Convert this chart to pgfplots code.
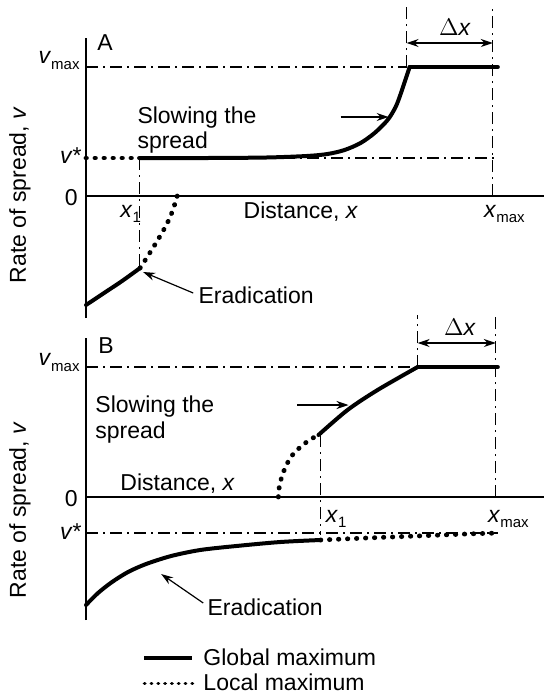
\documentclass[border=0pt]{standalone}
\usepackage{pgfplots}
\pgfplotsset{compat=1.18}
\usepackage{fontspec}
\setmainfont{Liberation Sans}
\usetikzlibrary{arrows.meta}

\tikzset{
  glob/.style={line width=2pt, line cap=round, line join=round},
  loc/.style={line width=2.4pt, line cap=round, dash pattern=on 0.2pt off 4.3pt},
  refl/.style={line width=0.6pt, dash pattern=on 6pt off 2.5pt on 1pt off 2.5pt},
  fnt/.style={font=\fontsize{11.5}{13}\selectfont, inner sep=0pt},
  arr/.style={line width=0.8pt, -{Stealth[length=6pt,width=4pt]}},
  darr/.style={line width=0.8pt, {Stealth[length=6pt,width=4pt]}-{Stealth[length=6pt,width=4pt]}},
  earr/.style={line width=0.6pt, -{Stealth[length=6pt,width=4pt]}},
}
\newcommand{\vmax}{\textit{v}\raisebox{-0.5ex}{\fontsize{7.5}{8}\selectfont max}}
\newcommand{\xmaxl}{\textit{x}\raisebox{-0.45ex}{\fontsize{7.5}{8}\selectfont max}}
\newcommand{\xone}{\textit{x}\raisebox{-0.45ex}{\fontsize{7.5}{8}\selectfont 1}}

\pgfplotsset{panel/.style={scale only axis, width=228.5pt, xmin=0, xmax=457,
  axis lines=none, clip=false, xtick=\empty, ytick=\empty}}

\begin{document}
\begin{tikzpicture}
\useasboundingbox (0,0) rectangle (271.5pt,-349pt);
% ---------------- Panel A ----------------
\begin{axis}[panel, at={(43pt,-159pt)}, anchor=south west, height=140pt, ymin=-122, ymax=158]
\addplot[line width=1pt] coordinates {(0,-122) (0,158)};
\addplot[line width=1pt] coordinates {(0,0) (457,0)};
\addplot[refl] coordinates {(0,129) (320,129)};
\addplot[refl] coordinates {(53,38) (411,38)};
\addplot[refl] coordinates {(53,38) (53,-72)};
\addplot[refl] coordinates {(320,129) (320,189)};
\addplot[refl] coordinates {(406,0) (406,189)};
\addplot[glob, smooth] coordinates {(0,-109) (18,-97) (36,-85) (54,-72)};
\addplot[loc, smooth] coordinates {(54,-72) (63,-58) (71,-45) (78,-33) (84,-21) (88,-10) (91,0)};
\addplot[loc] coordinates {(0,38) (53,38)};
\addplot[glob, smooth] coordinates {(53,38) (120,38) (180,38.5) (220,40) (241,42) (258,46) (274,53) (288,63) (301,76) (309,89) (314,102) (318,114) (323,129)};
\addplot[glob] coordinates {(323,129) (411,129)};
\draw[darr] (axis cs:320,153) -- (axis cs:406,153);
\node[fnt, anchor=base west] at (axis cs:352,161) {$\Delta$\textit{x}};
\draw[arr] (axis cs:254,79) -- (axis cs:302,79);
\draw[earr] (axis cs:107,-97) -- (axis cs:57,-76);
\node[fnt, anchor=base west] at (axis cs:112,-107) {Eradication};
\node[fnt, anchor=base west] at (axis cs:11,146) {A};
\node[fnt, anchor=base west] at (axis cs:51,73) {Slowing the};
\node[fnt, anchor=base west] at (axis cs:51,48) {spread};
\node[fnt, anchor=base west] at (axis cs:157,-22) {Distance, \textit{x}};
\node[fnt, anchor=base west] at (axis cs:34,-21) {\xone};
\node[fnt, anchor=base west] at (axis cs:397,-21) {\xmaxl};
\node[fnt, anchor=base east] at (axis cs:-6,133) {\vmax};
\node[fnt, anchor=base east] at (axis cs:-4,33) {\textit{v}*};
\node[fnt, anchor=base east] at (axis cs:-8,-9) {0};
\node[fnt, rotate=90] at (axis cs:-66,1) {Rate of spread, \textit{v}};
\end{axis}
% ---------------- Panel B ----------------
\begin{axis}[panel, at={(43pt,-310pt)}, anchor=south west, height=141pt, ymin=-123, ymax=159,
  legend style={draw=none, fill=none, at={(axis description cs:0.1225,-0.092)}, anchor=north west,
    inner sep=0pt, row sep=0.5pt, column sep=4.5pt,
    nodes={inner sep=0pt, text height=9.5pt, text depth=2.5pt, font=\fontsize{11.5}{13}\selectfont},
    cells={anchor=west}},
  legend image code/.code={\draw[#1] (0pt,0pt) -- (24pt,0pt);}]
\addlegendimage{line width=2pt}
\addlegendimage{line width=1.8pt, line cap=round, dash pattern=on 0.2pt off 3.2pt}
\addplot[line width=1pt, forget plot] coordinates {(0,-123) (0,159)};
\addplot[line width=1pt, forget plot] coordinates {(0,0) (457,0)};
\addplot[refl, forget plot] coordinates {(0,130) (331,130)};
\addplot[refl, forget plot] coordinates {(0,-36) (411,-36)};
\addplot[refl, forget plot] coordinates {(234,62) (234,-38)};
\addplot[refl, forget plot] coordinates {(331,130) (331,182)};
\addplot[refl, forget plot] coordinates {(409,0) (409,182)};
\addplot[glob, smooth, forget plot] coordinates {(0,-108) (12,-96) (26,-85) (42,-75) (60,-67) (85,-59) (114,-53) (150,-49) (194,-45) (234,-43)};
\addplot[loc, smooth, forget plot] coordinates {(234,-43) (280,-41) (330,-39) (380,-37) (411,-36)};
\addplot[loc, smooth, forget plot] coordinates {(192,0) (193,11) (196,22) (200,32) (206,42) (214,50) (223,57) (232,62)};
\addplot[glob, smooth, forget plot] coordinates {(232,62) (261,87) (291,107) (331,130)};
\addplot[glob, forget plot] coordinates {(331,130) (411,130)};
\draw[darr] (axis cs:331,154) -- (axis cs:409,154);
\node[fnt, anchor=base west] at (axis cs:357,162) {$\Delta$\textit{x}};
\draw[arr] (axis cs:211,92) -- (axis cs:262,92);
\draw[earr] (axis cs:117,-106) -- (axis cs:75,-77);
\node[fnt, anchor=base west] at (axis cs:121,-118) {Eradication};
\node[fnt, anchor=base west] at (axis cs:12,144) {B};
\node[fnt, anchor=base west] at (axis cs:9,85) {Slowing the};
\node[fnt, anchor=base west] at (axis cs:9,59) {spread};
\node[fnt, anchor=base west] at (axis cs:34,7) {Distance, \textit{x}};
\node[fnt, anchor=base west] at (axis cs:239,-25) {\xone};
\node[fnt, anchor=base west] at (axis cs:401,-25) {\xmaxl};
\node[fnt, anchor=base east] at (axis cs:-6,132) {\vmax};
\node[fnt, anchor=base east] at (axis cs:-4,-42) {\textit{v}*};
\node[fnt, anchor=base east] at (axis cs:-8,-9) {0};
\node[fnt, rotate=90] at (axis cs:-66,-13) {Rate of spread, \textit{v}};
\legend{Global maximum, Local maximum}
\end{axis}
\end{tikzpicture}
\end{document}
